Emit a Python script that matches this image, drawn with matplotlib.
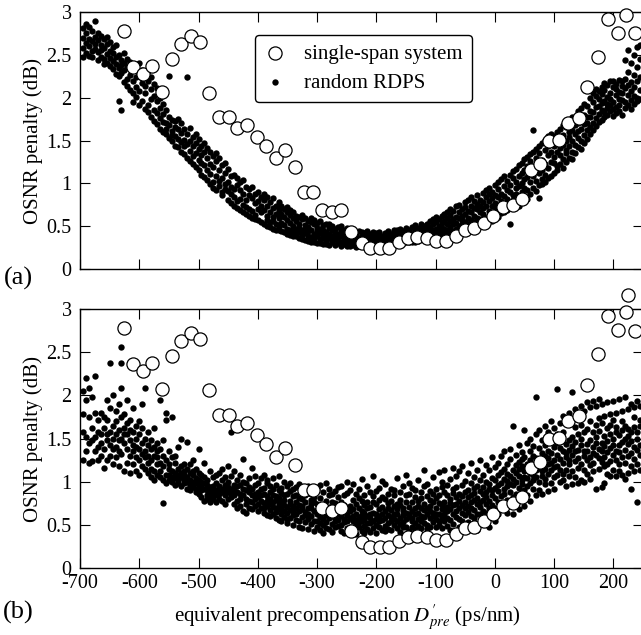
import numpy as np
import matplotlib
matplotlib.use("Agg")
import matplotlib.pyplot as plt

plt.rcParams['font.family'] = ['Liberation Serif', 'DejaVu Serif']
plt.rcParams['mathtext.fontset'] = 'stix'
plt.rcParams['axes.unicode_minus'] = False

# single-span system (open circles), same in both panels
ss_x = [-625, -610, -594, -578, -562, -545, -529, -513, -498, -482, -466, -449, -435, -418,
        -402, -386, -369, -354, -338, -322, -307, -291, -275, -259, -242, -225, -211, -194,
        -178, -162, -146, -131, -114, -99, -83, -66, -51, -36, -19, -3, 13, 30, 45, 61, 76,
        91, 108, 124, 142, 156, 174, 191, 207, 222, 237]
ss_y = [2.78, 2.36, 2.28, 2.37, 2.07, 2.45, 2.63, 2.72, 2.65, 2.06, 1.77, 1.77, 1.65, 1.68,
        1.54, 1.44, 1.29, 1.39, 1.19, 0.90, 0.90, 0.69, 0.66, 0.69, 0.43, 0.30, 0.24, 0.24,
        0.24, 0.31, 0.36, 0.37, 0.36, 0.33, 0.33, 0.39, 0.46, 0.48, 0.54, 0.62, 0.72, 0.75,
        0.82, 1.16, 1.23, 1.49, 1.51, 1.70, 1.76, 2.12, 2.48, 2.92, 2.76, 2.96, 2.75]
# one more circle seen above the top of panel (b)
ss_extra_x = [225]
ss_extra_y = [3.16]

# random RDPS dots, read column by column (5 ps/nm wide columns from -695 to 245)
col_x0 = -695
col_dx = 5

rdps_a = [
    # -695 .. -355
    [2.58, 2.81, 2.47, 2.70], [2.75, 2.52, 2.64, 2.86], [2.49, 2.69, 2.83, 2.60], [2.66, 2.78, 2.55, 2.47],
    [2.89, 2.57, 2.71, 2.63], [2.53, 2.44, 2.76, 2.67], [2.72, 2.61, 2.48, 2.56], [2.45, 2.68, 2.58, 2.39],
    [2.63, 2.40, 2.51, 2.71], [2.37, 2.55, 2.65, 2.46], [2.59, 2.43, 2.33, 2.52], [2.48, 2.28, 2.61, 2.39],
    [1.96, 2.35, 2.50, 2.25], [2.44, 1.86, 2.29, 2.38], [2.18, 2.41, 2.32, 2.52], [2.36, 2.14, 2.45, 2.22],
    [2.27, 2.42, 2.09, 2.33], [2.06, 2.20, 2.38, 1.95], [2.34, 2.01, 2.24, 2.13], [1.91, 2.28, 2.40, 2.08],
    [2.17, 2.32, 1.96, 2.23], [2.26, 1.87, 2.05, 2.14], [1.92, 2.19, 2.31, 1.83], [2.10, 1.78, 1.98, 2.24],
    [1.86, 2.02, 2.16, 1.73], [1.96, 1.69, 2.11, 1.82], [1.63, 1.88, 1.76, 2.00], [1.81, 1.93, 1.60, 1.72],
    [1.70, 1.58, 1.86, 1.64], [2.25, 1.77, 1.53, 1.68], [1.61, 1.49, 1.74, 1.56], [1.73, 1.55, 1.44, 1.66],
    [1.42, 1.63, 1.52, 1.75], [1.59, 1.37, 1.70, 1.48], [1.34, 1.51, 1.64, 1.43], [2.24, 1.58, 1.29, 1.46],
    [1.38, 1.65, 1.26, 1.50], [1.54, 1.32, 1.22, 1.43], [1.19, 1.47, 1.35, 1.58], [1.40, 1.15, 1.27, 1.52],
    [1.24, 1.44, 1.10, 1.33], [1.36, 1.07, 1.21, 1.47], [1.04, 1.29, 1.41, 1.16], [1.23, 1.37, 0.99, 1.11],
    [1.32, 1.02, 1.19, 0.95], [1.08, 1.26, 0.92, 1.35], [0.97, 1.15, 1.30, 1.03], [1.21, 0.90, 1.06, 0.86],
    [0.93, 1.12, 1.24, 0.99], [1.17, 0.81, 1.02, 0.91], [0.87, 1.08, 0.77, 0.96], [1.10, 0.74, 0.93, 0.84],
    [0.79, 0.98, 0.71, 1.06], [0.92, 0.69, 1.01, 0.82], [0.75, 0.88, 1.04, 0.67], [0.96, 0.64, 0.80, 0.72],
    [0.70, 0.86, 0.62, 0.93], [0.83, 0.60, 0.96, 0.68], [0.63, 0.77, 0.88, 0.58], [0.90, 0.70, 0.57, 0.79],
    [0.66, 0.55, 0.84, 0.74], [0.80, 0.52, 0.69, 0.88], [0.57, 0.73, 0.84, 0.62, 0.50],
    [0.78, 0.55, 0.66, 0.49], [0.61, 0.83, 0.47, 0.71, 0.56], [0.74, 0.52, 0.64, 0.46],
    [0.45, 0.69, 0.59, 0.78, 0.50], [0.64, 0.44, 0.73, 0.54], [0.51, 0.70, 0.43, 0.61],
    # -350 .. 95
    [0.47, 0.66, 0.41, 0.57, 0.72], [0.54, 0.40, 0.63, 0.46, 0.69], [0.39, 0.59, 0.50, 0.44, 0.66],
    [0.56, 0.38, 0.47, 0.62, 0.42], [0.43, 0.61, 0.36, 0.52, 0.48], [0.58, 0.35, 0.45, 0.40, 0.63],
    [0.34, 0.51, 0.42, 0.60, 0.47], [0.49, 0.33, 0.56, 0.39, 0.44], [0.37, 0.55, 0.32, 0.46, 0.59],
    [0.52, 0.31, 0.41, 0.36, 0.57], [0.30, 0.44, 0.54, 0.39, 0.48], [0.47, 0.35, 0.30, 0.56, 0.42],
    [0.29, 0.40, 0.51, 0.36, 0.45], [0.43, 0.33, 0.53, 0.29, 0.38], [0.36, 0.48, 0.28, 0.41, 0.52],
    [0.31, 0.45, 0.38, 0.50, 0.34], [0.42, 0.28, 0.47, 0.35, 0.39], [0.33, 0.49, 0.30, 0.41, 0.37],
    [0.44, 0.27, 0.38, 0.50, 0.32], [0.29, 0.40, 0.35, 0.46, 0.31], [0.37, 0.48, 0.27, 0.33, 0.42],
    [0.30, 0.43, 0.36, 0.27, 0.46], [0.40, 0.32, 0.45, 0.28, 0.35], [0.34, 0.26, 0.41, 0.38, 0.30],
    [0.44, 0.29, 0.36, 0.32, 0.27], [0.31, 0.39, 0.27, 0.43, 0.35], [0.28, 0.37, 0.33, 0.42, 0.30],
    [0.38, 0.27, 0.44, 0.32, 0.35], [0.33, 0.41, 0.29, 0.36, 0.28], [0.29, 0.35, 0.43, 0.31, 0.39],
    [0.37, 0.28, 0.32, 0.42, 0.34], [0.31, 0.40, 0.29, 0.36, 0.43], [0.35, 0.28, 0.39, 0.33, 0.30],
    [0.42, 0.31, 0.37, 0.29, 0.34], [0.30, 0.36, 0.44, 0.33, 0.39], [0.38, 0.29, 0.34, 0.41, 0.31],
    [0.33, 0.43, 0.30, 0.37, 0.46], [0.40, 0.32, 0.45, 0.35, 0.29], [0.31, 0.38, 0.34, 0.47, 0.42],
    [0.44, 0.36, 0.30, 0.40, 0.33], [0.35, 0.48, 0.32, 0.42, 0.38], [0.31, 0.39, 0.46, 0.34, 0.43],
    [0.41, 0.33, 0.49, 0.37, 0.31], [0.36, 0.45, 0.32, 0.51, 0.40], [0.43, 0.34, 0.38, 0.48, 0.33],
    [0.35, 0.47, 0.41, 0.52, 0.38], [0.44, 0.36, 0.50, 0.34, 0.40], [0.38, 0.53, 0.42, 0.35, 0.47],
    [0.49, 0.37, 0.44, 0.56, 0.40], [0.41, 0.52, 0.36, 0.46, 0.58], [0.38, 0.47, 0.55, 0.42, 0.61],
    [0.50, 0.39, 0.44, 0.58, 0.37], [0.43, 0.54, 0.62, 0.40, 0.48], [0.56, 0.41, 0.47, 0.64, 0.39],
    [0.45, 0.60, 0.52, 0.40, 0.67], [0.49, 0.42, 0.63, 0.56, 0.70], [0.58, 0.44, 0.52, 0.68, 0.41],
    [0.47, 0.61, 0.73, 0.54, 0.43], [0.66, 0.50, 0.45, 0.59, 0.75], [0.53, 0.70, 0.46, 0.62, 0.57],
    [0.48, 0.64, 0.78, 0.55, 0.72], [0.68, 0.52, 0.60, 0.47, 0.81], [0.57, 0.74, 0.50, 0.66, 0.84],
    [0.49, 0.62, 0.79, 0.71, 0.55], [0.70, 0.53, 0.86, 0.60, 0.76], [0.58, 0.81, 0.67, 0.51, 0.74],
    [0.64, 0.89, 0.56, 0.78, 0.71], [0.84, 0.60, 0.73, 0.92, 0.53], [0.68, 0.79, 0.58, 0.95, 0.87],
    [0.62, 0.90, 0.74, 0.83, 0.56], [0.77, 0.98, 0.66, 0.86, 0.72], [0.93, 0.70, 0.61, 0.84, 1.01],
    [0.65, 0.88, 0.79, 1.05, 0.74], [0.97, 0.73, 0.85, 0.66, 1.08], [0.82, 1.03, 0.69, 0.92, 0.77],
    [0.52, 0.90, 1.10, 0.75, 0.98], [0.71, 1.06, 0.86, 1.14, 0.80], [0.95, 0.76, 1.17, 1.02, 0.88],
    [1.09, 0.83, 0.74, 1.21, 0.97], [0.79, 1.00, 1.24, 0.90, 1.12], [1.15, 0.85, 1.05, 0.94, 1.28],
    [0.92, 1.20, 0.82, 1.31, 1.07], [1.02, 1.26, 0.88, 1.13, 1.34], [1.62, 0.95, 1.18, 1.08, 1.37],
    [1.23, 0.91, 1.40, 1.03, 1.30], [0.83, 1.12, 1.35, 0.98, 1.44], [1.27, 1.05, 1.47, 1.16, 0.99],
    [1.39, 1.10, 1.22, 1.51, 1.01], [1.06, 1.33, 1.18, 1.55, 1.44], [1.25, 1.48, 1.09, 1.37, 1.58],
    # 100 .. 245
    [1.31, 1.12, 1.55, 1.24, 1.44], [1.48, 1.20, 1.36, 1.60, 1.15], [1.22, 1.41, 1.63, 1.33, 1.52],
    [1.57, 1.28, 1.45, 1.18, 1.68], [1.39, 1.66, 1.25, 1.50, 1.35], [1.30, 1.54, 1.72, 1.44, 1.60],
    [1.62, 1.37, 1.49, 1.78, 1.28], [1.45, 1.76, 1.35, 1.58, 1.68], [1.70, 1.42, 1.84, 1.53, 1.61],
    [1.49, 1.64, 1.88, 1.40, 1.75], [1.80, 1.56, 1.69, 1.93, 1.47], [1.62, 1.90, 1.52, 1.78, 1.71],
    [1.85, 1.66, 2.00, 1.58, 1.77], [1.70, 1.95, 1.83, 2.06, 1.62], [2.02, 1.76, 1.89, 1.67, 2.10],
    [1.81, 2.08, 1.72, 1.98, 1.90], [1.94, 1.74, 2.13, 1.86, 2.04], [2.09, 1.83, 1.96, 2.17, 1.78],
    [1.88, 2.15, 1.80, 2.01, 1.93], [2.05, 1.91, 2.19, 1.84, 1.98], [1.79, 2.12, 1.95, 2.20, 1.87],
    [2.16, 1.89, 2.03, 1.82, 2.10], [1.92, 2.21, 1.85, 2.07, 1.99], [2.14, 1.80, 1.97, 2.19, 2.05],
    [1.88, 2.44, 2.11, 1.95, 2.22], [2.56, 2.03, 1.91, 2.30, 2.15], [1.97, 2.40, 2.18, 1.87, 2.08],
    [2.27, 1.93, 2.50, 2.12, 2.02], [2.00, 2.59, 2.20, 2.36, 1.96], [2.45, 2.09, 2.62, 1.99, 2.24],
]

rdps_b = [
    # -695 .. -395
    [1.78, 1.25, 2.05, 1.58], [1.52, 2.20, 1.35, 1.95], [2.08, 1.45, 1.22, 1.75], [1.62, 1.98, 1.24, 1.48],
    [1.80, 2.22, 1.35, 1.52], [1.40, 1.72, 1.25, 1.58], [1.55, 1.30, 1.80, 1.45], [1.16, 1.62, 1.75, 1.38],
    [1.48, 1.95, 1.25, 1.72, 1.55], [2.37, 1.30, 1.58, 1.85, 1.42], [1.20, 1.65, 2.00, 1.38, 1.50],
    [1.82, 1.28, 1.55, 1.70, 1.40], [1.18, 1.90, 1.48, 1.35, 1.60], [2.56, 1.32, 1.75, 2.38, 1.50, 2.08],
    [1.45, 1.12, 1.78, 1.62, 1.55], [1.95, 1.22, 1.55, 1.38, 1.68], [1.30, 1.72, 1.10, 1.48, 1.60],
    [1.58, 1.20, 1.85, 1.42, 1.35], [1.12, 1.65, 1.40, 1.28, 1.50], [1.70, 1.25, 1.08, 1.55, 1.38],
    [1.45, 1.90, 1.18, 1.62, 1.32], [2.08, 1.35, 1.15, 1.50, 1.28], [1.22, 1.58, 1.10, 1.42, 1.30],
    [1.48, 1.05, 1.38, 1.15, 1.25], [1.12, 1.62, 1.30, 1.02, 1.40], [1.28, 1.45, 1.08, 1.20, 1.35],
    [1.95, 1.05, 1.38, 1.22, 1.12], [0.75, 1.48, 1.18, 1.02, 1.30], [1.80, 1.08, 1.25, 0.98, 1.72],
    [1.15, 1.35, 1.02, 1.20, 1.08], [1.75, 1.00, 1.28, 1.12, 1.05], [1.22, 0.96, 1.30, 1.10, 1.04],
    [1.02, 1.40, 1.15, 0.98, 1.08], [1.50, 0.95, 1.10, 1.18, 1.05], [0.98, 1.20, 1.08, 1.02, 1.12],
    [1.46, 0.92, 1.15, 1.05, 1.00], [0.96, 1.20, 1.02, 0.90, 1.10], [1.25, 0.94, 1.08, 1.12, 1.00],
    [0.92, 1.15, 0.88, 1.04, 0.98], [1.38, 0.86, 1.02, 1.10, 0.95], [0.90, 1.08, 0.82, 1.00, 0.94],
    [1.22, 0.78, 0.98, 1.05, 0.92], [0.85, 1.02, 0.80, 0.96, 0.90], [1.12, 0.76, 0.94, 0.88, 0.82],
    [0.80, 1.05, 0.86, 0.92, 0.95], [1.08, 0.84, 0.90, 0.76, 0.98], [0.86, 1.10, 0.80, 0.95, 0.92],
    [1.15, 0.78, 0.92, 1.02, 0.88], [0.84, 0.74, 1.05, 0.96, 0.90], [1.18, 0.88, 0.80, 1.00, 0.94],
    [0.82, 1.58, 0.92, 1.06, 0.86], [0.90, 1.12, 0.74, 0.96, 0.84], [0.78, 1.02, 0.88, 0.70, 0.95],
    [1.08, 0.86, 0.72, 0.96, 0.80], [0.92, 1.26, 0.66, 0.84, 1.00], [0.80, 0.64, 0.98, 0.90, 0.74],
    [1.04, 0.88, 0.70, 0.78, 0.94], [0.76, 1.16, 0.92, 0.68, 0.84], [0.86, 0.72, 1.06, 0.96, 0.80],
    [0.98, 0.74, 0.66, 0.88, 0.82], [0.84, 1.04, 0.70, 0.92, 0.78],
    # -390 .. -305
    [0.86, 0.64, 1.08, 0.75, 0.93, 0.70], [0.72, 0.98, 0.61, 0.83, 0.78, 1.02],
    [0.95, 0.67, 0.80, 0.60, 0.88, 0.74], [0.63, 0.85, 1.04, 0.71, 0.77, 0.92],
    [0.79, 0.58, 0.69, 0.96, 0.83, 0.65], [0.90, 0.74, 0.56, 0.81, 1.06, 0.68],
    [0.62, 0.87, 0.76, 0.54, 0.93, 0.70], [0.84, 0.66, 1.00, 0.73, 0.59, 0.79],
    [0.71, 0.95, 0.57, 0.86, 0.64, 0.52], [0.58, 0.78, 0.89, 0.67, 0.99, 0.74],
    [0.92, 0.61, 0.72, 0.50, 0.83, 0.66], [0.69, 0.85, 0.56, 0.94, 0.63, 0.77],
    [0.54, 0.73, 0.97, 0.66, 0.81, 0.48], [0.80, 0.59, 0.68, 0.88, 0.46, 0.72],
    [0.65, 0.91, 0.53, 0.76, 0.61, 0.84], [0.87, 0.70, 0.45, 0.63, 0.95, 0.57],
    [0.60, 0.79, 0.86, 0.51, 0.69, 0.74], [0.76, 0.55, 0.66, 0.90, 0.43, 0.82],
    # -300 .. 245
    [0.62, 0.48, 0.91, 0.55, 0.74, 0.67], [0.81, 0.44, 0.59, 0.70, 0.52, 0.96],
    [0.57, 0.73, 0.40, 0.88, 0.64, 0.50], [0.69, 0.99, 0.53, 0.61, 0.46, 0.78],
    [0.45, 0.63, 0.84, 0.58, 0.71, 0.92], [0.76, 0.51, 0.67, 0.42, 0.60, 0.86],
    [0.58, 0.89, 0.47, 0.75, 0.55, 0.66], [0.94, 0.62, 0.71, 0.49, 0.82, 0.56],
    [0.50, 0.77, 0.60, 0.95, 0.43, 0.68], [0.65, 0.41, 0.84, 0.57, 0.73, 0.53],
    [0.87, 0.54, 0.69, 0.46, 0.61, 1.00], [0.48, 0.72, 0.58, 0.90, 0.66, 0.40],
    [0.79, 0.60, 0.44, 0.68, 0.97, 0.55], [0.56, 0.86, 0.63, 0.39, 0.74, 0.51],
    [0.70, 0.47, 0.92, 0.59, 0.53, 0.81], [0.43, 0.66, 0.78, 0.54, 1.03, 0.61],
    [0.85, 0.57, 0.49, 0.73, 0.64, 0.40], [0.60, 0.95, 0.52, 0.69, 0.45, 0.77],
    [0.52, 0.71, 0.88, 0.42, 0.62, 0.58], [0.76, 0.46, 0.64, 1.06, 0.55, 0.83],
    [0.63, 0.89, 0.41, 0.57, 0.74, 0.50], [0.47, 0.68, 0.79, 0.60, 0.93, 0.54],
    [0.82, 0.56, 0.44, 0.71, 0.62, 1.01], [0.58, 0.97, 0.66, 0.49, 0.80, 0.43],
    [0.69, 0.52, 0.86, 0.61, 0.45, 0.75], [0.44, 0.78, 0.59, 0.92, 0.67, 0.55],
    [0.90, 0.63, 0.50, 0.72, 0.57, 0.84], [0.55, 0.46, 0.74, 1.04, 0.62, 0.68],
    [0.73, 0.88, 0.58, 0.42, 0.79, 0.51], [0.61, 0.53, 0.95, 0.66, 0.48, 0.70],
    [0.48, 0.76, 0.64, 0.84, 0.57, 1.08], [0.86, 0.59, 0.43, 0.71, 0.99, 0.62],
    [0.66, 0.93, 0.54, 0.77, 0.47, 0.58], [0.52, 0.69, 0.82, 0.45, 0.63, 0.90],
    [0.78, 0.57, 1.02, 0.64, 0.72, 0.49], [0.60, 0.46, 0.70, 0.88, 0.55, 0.81],
    [0.95, 0.67, 0.52, 1.14, 0.74, 0.59], [0.50, 0.83, 0.63, 0.45, 0.97, 0.69],
    [0.72, 0.58, 0.89, 0.66, 0.48, 0.79], [0.64, 1.05, 0.53, 0.76, 0.60, 0.86],
    [0.81, 0.47, 0.69, 0.92, 0.57, 0.63], [0.55, 0.75, 1.11, 0.62, 0.84, 0.50],
    [0.68, 0.94, 0.59, 0.46, 0.73, 1.00], [0.88, 0.63, 0.77, 0.54, 1.14, 0.70],
    [0.49, 0.71, 0.85, 0.66, 0.58, 0.96], [0.75, 1.03, 0.56, 0.80, 0.68, 0.44],
    [0.62, 0.87, 0.73, 1.16, 0.51, 0.92], [0.94, 0.59, 0.66, 0.82, 1.07, 0.74],
    [0.57, 0.78, 1.12, 0.48, 0.70, 0.86], [0.83, 0.64, 0.96, 0.73, 0.55, 1.18],
    [0.69, 1.01, 0.61, 0.88, 0.77, 0.46], [0.90, 0.72, 0.53, 1.10, 0.65, 0.82],
    [0.60, 0.85, 0.99, 0.70, 1.22, 0.76], [0.79, 0.58, 0.93, 0.67, 0.87, 1.05],
    [0.95, 1.14, 0.74, 0.44, 0.81, 0.63], [0.71, 0.89, 0.62, 1.02, 0.77, 1.25],
    [0.86, 0.66, 1.08, 0.79, 0.57, 0.94], [0.74, 1.19, 0.88, 0.64, 1.00, 0.82],
    [0.97, 0.78, 0.47, 0.91, 1.13, 0.70], [0.84, 1.04, 0.73, 1.28, 0.66, 0.90],
    [0.70, 0.93, 1.17, 0.81, 0.55, 1.02], [1.08, 0.77, 0.89, 0.62, 1.22, 0.96],
    [0.83, 1.30, 0.99, 0.74, 1.11, 0.68], [0.92, 0.71, 1.15, 1.03, 0.86, 1.35],
    [1.01, 0.79, 0.64, 1.20, 0.95, 1.09], [0.88, 1.26, 1.06, 0.73, 1.38, 0.97],
    [1.64, 0.96, 1.14, 0.82, 1.03, 0.62], [1.10, 0.86, 1.31, 1.00, 0.76, 1.19],
    [0.93, 1.23, 0.68, 1.07, 1.42, 1.15], [1.18, 1.02, 0.81, 1.34, 0.97, 1.26],
    [1.60, 0.90, 1.12, 1.29, 0.72, 1.05], [1.04, 1.45, 0.95, 1.21, 1.15, 0.85],
    [1.25, 0.99, 1.36, 0.78, 1.10, 1.50], [0.92, 1.19, 1.08, 1.41, 1.30, 1.02],
    [1.98, 1.13, 0.84, 1.27, 1.05, 1.55], [1.16, 1.39, 1.00, 1.60, 0.90, 1.24],
    [1.07, 1.48, 1.21, 0.86, 1.33, 1.12], [1.30, 0.97, 1.64, 1.15, 1.42, 1.03],
    [1.58, 1.20, 1.09, 1.36, 0.89, 1.27], [1.13, 1.51, 1.33, 0.99, 1.70, 1.22],
    [1.40, 1.05, 1.25, 1.62, 1.17, 0.92], [1.18, 2.07, 1.45, 1.08, 1.31, 1.55],
    [1.68, 1.26, 1.00, 1.39, 1.14, 1.50], [1.09, 1.36, 1.57, 1.22, 1.76, 1.02],
    [1.29, 1.72, 1.14, 0.95, 1.44, 1.33], [1.48, 1.20, 1.80, 1.37, 1.06, 1.25],
    [2.04, 1.31, 1.52, 1.12, 1.41, 0.97], [1.24, 1.63, 1.05, 1.46, 1.84, 1.35],
    [1.55, 1.16, 1.37, 1.78, 1.27, 0.99], [1.02, 1.42, 1.66, 1.21, 1.88, 1.50],
    [1.36, 1.82, 1.13, 1.58, 1.30, 1.00], [1.61, 1.25, 1.92, 1.44, 1.09, 1.35],
    [1.19, 1.48, 1.70, 1.03, 1.86, 1.29], [1.40, 1.94, 1.22, 1.57, 1.33, 1.12],
    [1.88, 1.31, 0.92, 1.52, 1.45, 1.66], [1.27, 1.59, 1.96, 1.38, 1.15, 1.74],
    [0.94, 1.45, 1.23, 1.68, 1.90, 1.35], [1.53, 0.98, 1.41, 1.76, 1.28, 1.18],
    [1.34, 1.92, 1.62, 1.09, 1.47, 1.21], [1.66, 1.24, 1.06, 1.78, 1.39, 1.55],
    [1.14, 1.50, 1.94, 1.31, 1.72, 1.43], [1.57, 1.06, 1.36, 1.80, 1.25, 1.63],
    [1.96, 1.42, 1.20, 1.54, 1.12, 1.34], [1.29, 1.70, 1.08, 1.46, 1.82, 1.60],
    [1.49, 1.22, 1.98, 1.37, 1.64, 1.03], [1.61, 1.10, 1.44, 1.84, 1.30, 1.53],
    [1.90, 1.33, 0.92, 1.58, 1.47, 1.18], [1.40, 1.75, 1.26, 1.63, 1.86, 1.12],
    [0.77, 1.57, 1.94, 1.37, 1.21, 1.49], [1.65, 1.14, 1.31, 1.88, 1.42, 1.72],
]

xticks = [-700, -600, -500, -400, -300, -200, -100, 0, 100, 200]
yticks = [0, 0.5, 1, 1.5, 2, 2.5, 3]
ytick_labels = ['0', '0.5', '1', '1.5', '2', '2.5', '3']


def flatten(cols):
    xs, ys = [], []
    for i, col in enumerate(cols):
        for v in col:
            xs.append(col_x0 + i * col_dx)
            ys.append(v)
    return xs, ys


W, H = 641, 635
fig = plt.figure(figsize=(W / 100, H / 100), dpi=100)
ax_a = fig.add_axes([80 / W, 1 - 269 / H, 563 / W, 257 / H])
ax_b = fig.add_axes([80 / W, 1 - 568 / H, 563 / W, 259 / H])

for ax, cols in [(ax_a, rdps_a), (ax_b, rdps_b)]:
    dx, dy = flatten(cols)
    ax.scatter(dx, dy, s=21, c='black', linewidths=0, zorder=2, label='random RDPS')
    ax.scatter(ss_x, ss_y, s=90, facecolors='white', edgecolors='black', linewidths=0.9,
               zorder=3, clip_on=False, label='single-span system')
    ax.set_xlim(-700, 250)
    ax.set_ylim(0, 3)
    ax.set_xticks(xticks)
    ax.set_yticks(yticks)
    ax.set_yticklabels(ytick_labels)
    ax.tick_params(direction='in', top=True, right=True, length=7, width=0.8,
                   labelsize=14.5, pad=6)
    for sp in ax.spines.values():
        sp.set_linewidth(1.0)
    ax.set_ylabel('OSNR penalty (dB)', fontsize=15)
    ax.yaxis.set_label_coords(-0.066, 0.5)

ax_b.scatter(ss_extra_x, ss_extra_y, s=90, facecolors='white', edgecolors='black',
             linewidths=0.9, zorder=3, clip_on=False)

ax_a.tick_params(labelbottom=False)
ax_b.tick_params(axis='x', pad=4)

h, l = ax_a.get_legend_handles_labels()
leg = ax_a.legend(h[::-1], l[::-1], loc='upper left', bbox_to_anchor=(0.311, 0.911),
                  borderaxespad=0, fontsize=15, frameon=True, fancybox=True,
                  handlelength=1.0, handletextpad=0.9, labelspacing=0.45, borderpad=0.45,
                  framealpha=1, edgecolor='black')
leg.get_frame().set_linewidth(1.0)

ax_b.set_xlabel(r"equivalent precompensation $D^{\prime}_{pre}$ (ps/nm)", fontsize=15)
ax_b.xaxis.set_label_coords(0.475, -0.135)

fig.text(18 / W, 1 - 278 / H, '(a)', fontsize=19, ha='center', va='center')
fig.text(18 / W, 1 - 612 / H, '(b)', fontsize=19, ha='center', va='center')

fig.savefig('out.png', dpi=100)
